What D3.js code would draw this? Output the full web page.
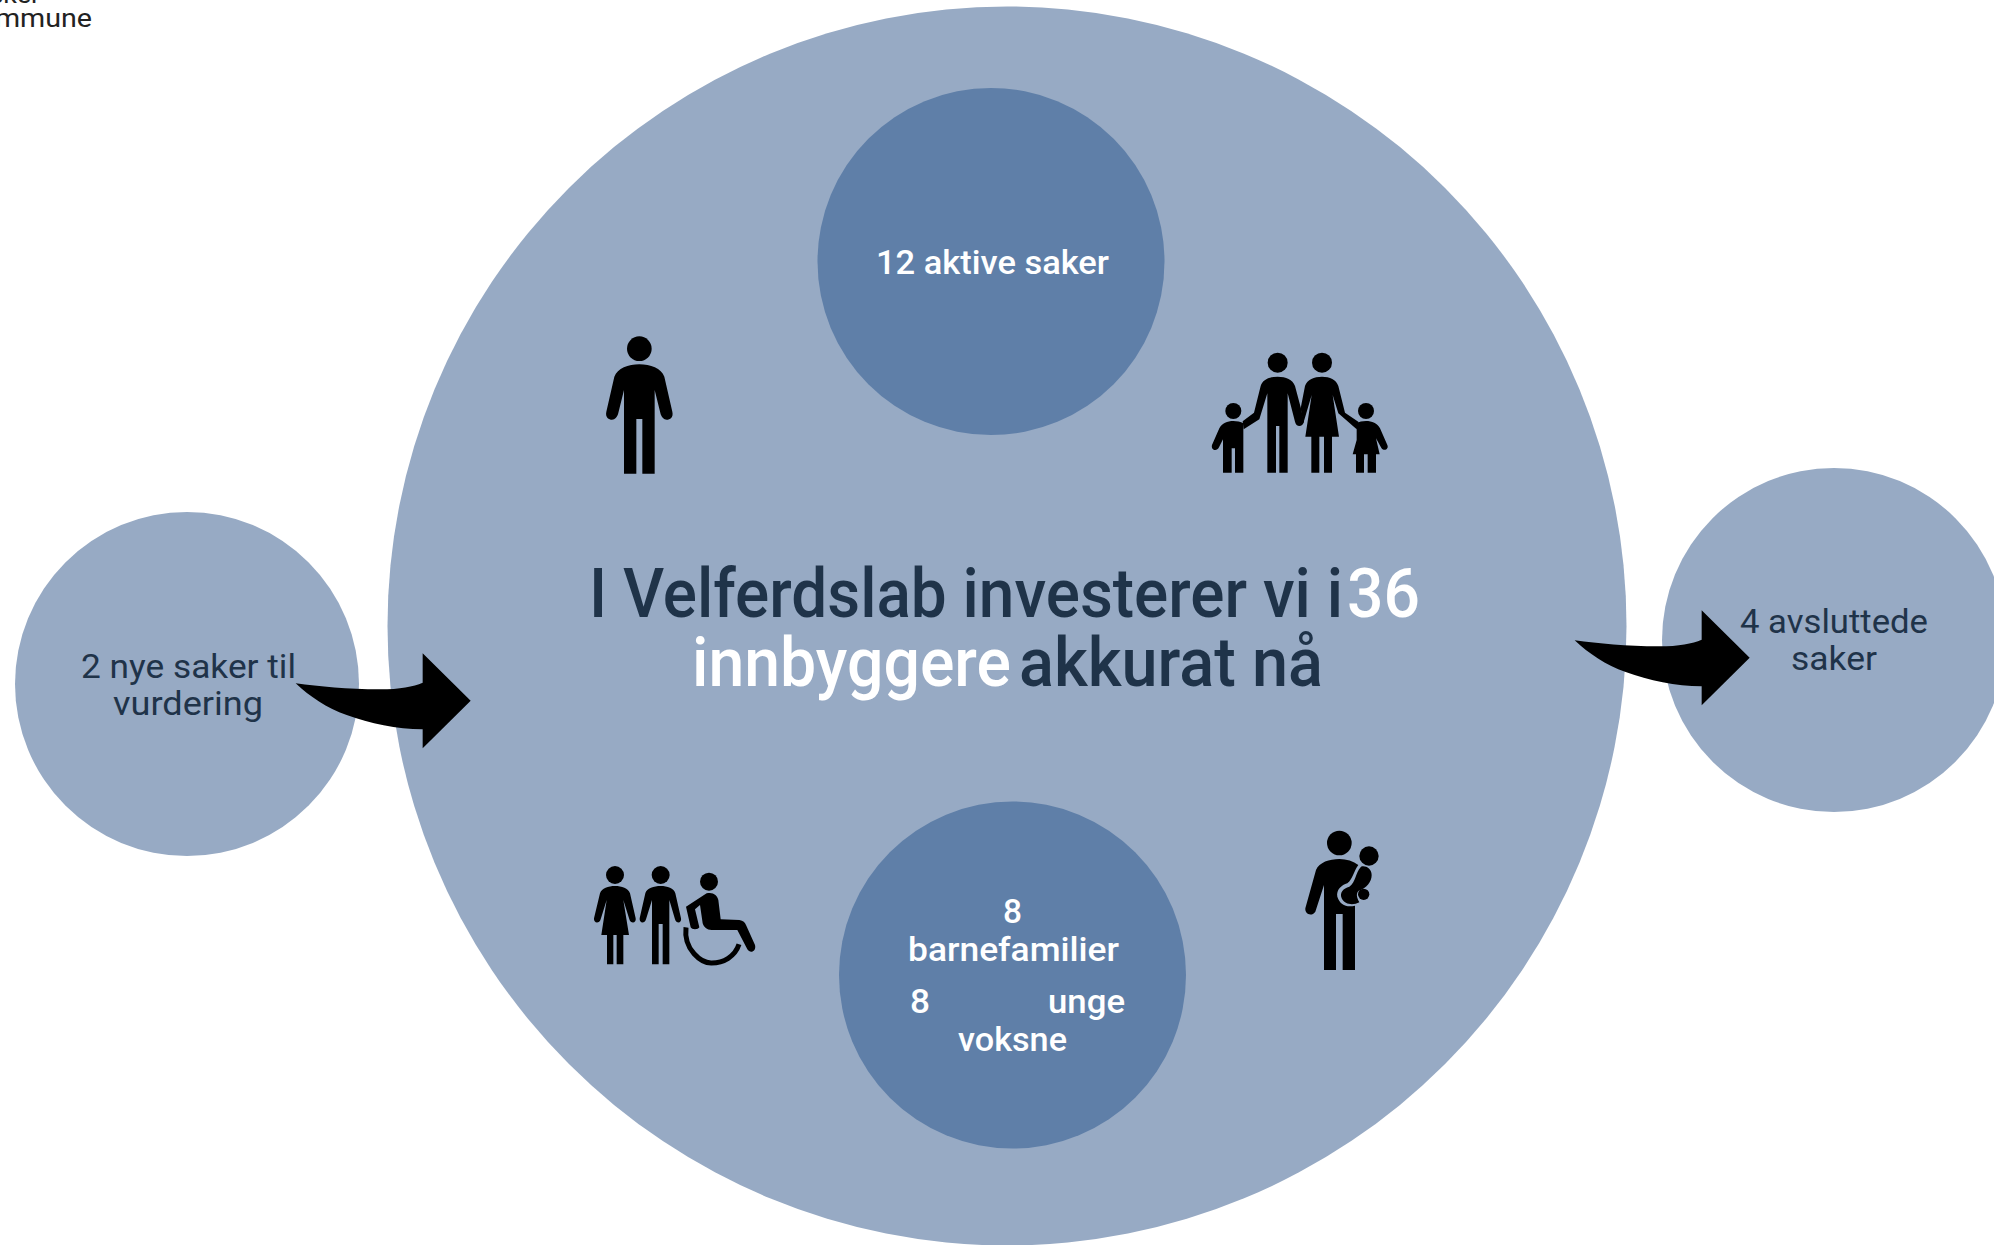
<!DOCTYPE html>
<html>
<head>
<meta charset="utf-8">
<script src="https://cdn.jsdelivr.net/npm/d3@7"></script>
<style>
  html, body { margin: 0; padding: 0; background: #fff; overflow: hidden; }
  text { font-family: Roboto, "Open Sans", sans-serif; }
</style>
</head>
<body>
<div id="chart"></div>
<script>
// the numbers in the diagram
const totalCitizens = 36;
const activeCases = 12;
const familyCases = 8;
const youngAdultCases = 8;
const newCases = 2;
const closedCases = 4;

// the wording around them
const titleParts = ["I Velferdslab investerer vi i", String(totalCitizens), "innbyggere", "akkurat nå"];
const activeLabel = [activeCases + " aktive saker"];
const familyLabel = [String(familyCases), "barnefamilier"];
const youngLabel = [String(youngAdultCases), "unge", "voksne"];
const newLabel = [newCases + " nye saker til", "vurdering"];
const closedLabel = [closedCases + " avsluttede", "saker"];
const logoLabel = ["Asker", "kommune"];

const width = 1994;
const height = 1245;
const dark = "#1f3349";
const paleBlue = "#97aac4";
const midBlue = "#5f7fa8";

const svg = d3.select("#chart").append("svg")
    .attr("width", width)
    .attr("height", height);

// circles, biggest first so the small ones land on top
const circles = [
    {cx: 1007, cy: 626, r: 619.5, fill: paleBlue},
    {cx: 991, cy: 261.5, r: 173.5, fill: midBlue},
    {cx: 1012.5, cy: 975, r: 173.5, fill: midBlue},
    {cx: 187, cy: 684, r: 172, fill: paleBlue},
    {cx: 1834, cy: 640, r: 172, fill: paleBlue}
];

svg.append("g").selectAll("circle")
    .data(circles)
    .join("circle")
    .attr("cx", d => d.cx)
    .attr("cy", d => d.cy)
    .attr("r", d => d.r)
    .attr("fill", d => d.fill);

// every text is fitted to the width it has in the picture
const texts = [
    {t: titleParts[0], x: 589, y: 617, w: 754, size: 68, weight: 500, fill: dark},
    {t: titleParts[1], x: 1347, y: 617, w: 73, size: 68, weight: 500, fill: "#fff"},
    {t: titleParts[2], x: 692, y: 686, w: 319, size: 68, weight: 500, fill: "#fff"},
    {t: titleParts[3], x: 1019, y: 686, w: 304, size: 68, weight: 500, fill: dark},
    {t: activeLabel[0], x: 876, y: 274, w: 233, size: 34, weight: 500, fill: "#fff"},
    {t: familyLabel[0], x: 1003, y: 923, w: 19, size: 34, weight: 500, fill: "#fff"},
    {t: familyLabel[1], x: 908, y: 961, w: 211, size: 34, weight: 500, fill: "#fff"},
    {t: youngLabel[0], x: 910, y: 1013, w: 20, size: 34, weight: 500, fill: "#fff"},
    {t: youngLabel[1], x: 1048, y: 1013, w: 77, size: 34, weight: 500, fill: "#fff"},
    {t: youngLabel[2], x: 958, y: 1051, w: 109, size: 34, weight: 500, fill: "#fff"},
    {t: newLabel[0], x: 81, y: 678, w: 215, size: 33, weight: 400, fill: dark},
    {t: newLabel[1], x: 113, y: 715, w: 150, size: 33, weight: 400, fill: dark},
    {t: closedLabel[0], x: 1740, y: 633, w: 188, size: 33, weight: 400, fill: dark},
    {t: closedLabel[1], x: 1791, y: 670, w: 86, size: 33, weight: 400, fill: dark},
    {t: logoLabel[0], x: -28, y: 3, w: 68, size: 26, weight: 400, fill: "#222"},
    {t: logoLabel[1], x: -36, y: 27, w: 128, size: 26, weight: 400, fill: "#222"}
];

svg.append("g").selectAll("text")
    .data(texts)
    .join("text")
    .attr("x", d => d.x)
    .attr("y", d => d.y)
    .attr("textLength", d => d.w)
    .attr("lengthAdjust", "spacingAndGlyphs")
    .attr("font-size", d => d.size)
    .attr("font-weight", d => d.weight)
    .attr("fill", d => d.fill)
    .text(d => d.t);

// icons, traced at 3x, so each group is scaled back down by a third
const icons = [
    {x: 560, y: 310,
     heads: [[238, 116, 37]],
     paths: ["M238 163C205 163 172 175 163 200L139 305C135 322 147 329 156 329C165 329 171 322 174 313L192 240L192 491L229 491L229 327L247 327L247 491L284 491L284 240L302 313C305 322 311 329 320 329C330 329 341 322 337 305L313 200C304 175 271 163 238 163Z"]},
    {x: 1190, y: 330,
     heads: [[263, 98, 30], [396, 98, 30], [130, 243, 24], [528, 243, 24]],
     paths: [
        "M263 140C238 140 218 148 212 168L192 248L158 274L161 298L208 268L232 190L232 428L258 428L258 288L268 288L268 428L293 428L293 190L315 275C318 292 338 292 342 275L332 232L315 168C308 148 288 140 263 140Z",
        "M396 140C372 140 352 148 345 168L332 235L340 280L365 195L346 320L364 320L364 428L388 428L388 320L402 320L402 428L426 428L426 320L447 320L428 195L445 250L500 298L506 276L465 248L445 168C438 148 420 140 396 140Z",
        "M130 273C112 273 96 280 88 295L66 345C62 360 80 367 87 352L99 328L99 428L125 428L125 355L135 355L135 428L160 428L160 280C152 275 140 273 130 273Z",
        "M528 273C516 273 508 275 500 280L500 330L488 373L498 373L498 428L522 428L522 373L533 373L533 428L558 428L558 373L569 373L558 325L572 350C580 367 598 358 592 345L570 295C562 280 546 273 528 273Z"
     ]},
    {x: 580, y: 850,
     heads: [[105, 75, 27], [242, 75, 27], [387, 95, 27]],
     paths: [
        "M105 108C85 108 65 115 60 130L42 205C40 220 58 222 62 208L80 150L64 255L81 255L81 343L100 343L100 255L110 255L110 343L130 343L130 255L147 255L130 150L148 208C152 222 170 220 167 205L150 130C145 115 125 108 105 108Z",
        "M242 108C222 108 200 115 196 130L179 205C177 220 194 222 198 208L216 150L216 343L236 343L236 222L248 222L248 343L268 343L268 150L285 208C289 222 306 220 303 205L286 130C282 115 262 108 242 108Z",
        "M318 170L380 130C398 125 412 135 415 150L422 208L478 210C490 212 495 218 498 225L525 285C530 305 510 312 502 298L472 240L395 240C380 240 372 232 368 220L360 165L345 178L358 232C355 240 335 240 332 232Z"
     ],
     strokes: ["M318 232C310 300 365 340 395 339C430 339 465 320 477 283"]},
    {x: 1290, y: 815,
     heads: [[148, 84, 37], [237, 123, 29], [221, 238, 17]],
     paths: [
        "M148 132C118 132 88 142 78 165L46 280C44 298 65 306 76 290L102 210L102 465L138 465L138 297L158 297L158 465L195 465L195 272C170 278 150 270 142 245C138 225 155 210 172 205C190 190 190 170 205 150C190 138 170 132 148 132Z",
        "M213 155C225 150 245 160 245 180C245 200 230 220 205 228C195 240 205 255 208 262C190 272 165 270 155 250C148 232 160 220 178 215C198 200 195 175 213 155Z"
     ]}
];

const iconGroups = svg.append("g").selectAll("g")
    .data(icons)
    .join("g")
    .attr("transform", d => "translate(" + d.x + "," + d.y + ") scale(" + 1 / 3 + ")");

iconGroups.selectAll("circle")
    .data(d => d.heads)
    .join("circle")
    .attr("cx", d => d[0])
    .attr("cy", d => d[1])
    .attr("r", d => d[2])
    .attr("fill", "#000");

iconGroups.selectAll("path.fill")
    .data(d => d.paths)
    .join("path")
    .attr("class", "fill")
    .attr("d", d => d)
    .attr("fill", "#000");

iconGroups.selectAll("path.wheel")
    .data(d => d.strokes || [])
    .join("path")
    .attr("class", "wheel")
    .attr("d", d => d)
    .attr("fill", "none")
    .attr("stroke", "#000")
    .attr("stroke-width", 15);

// the two arrows are the same shape, the second is just moved over
const arrowShape = "M47 130C120 140 200 148 300 148C360 148 400 140 428 128L428 40L572 182L428 325L428 268C350 268 270 250 200 225C140 205 90 170 47 130Z";

svg.append("g").selectAll("path")
    .data([[280, 640], [1559, 597]])
    .join("path")
    .attr("transform", d => "translate(" + d[0] + "," + d[1] + ") scale(" + 1 / 3 + ")")
    .attr("d", arrowShape)
    .attr("fill", "#000");
</script>
</body>
</html>
